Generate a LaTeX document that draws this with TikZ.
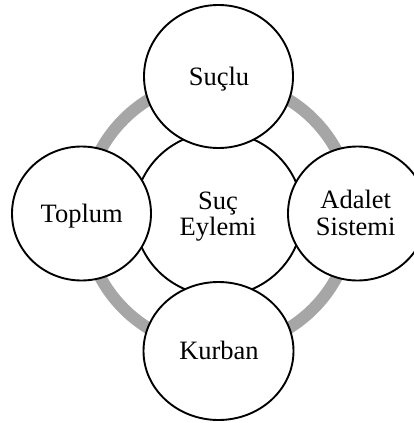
\documentclass[tikz,border=0pt]{standalone}
\usepackage{fontspec}
\setmainfont{Liberation Serif}
\usetikzlibrary{shapes.geometric}
\definecolor{ringgray}{HTML}{A6A6A6}
\begin{document}
\begin{tikzpicture}[x=1pt,y=-1pt,
  bubble/.style={draw=black, line width=1.9pt, fill=white, ellipse, inner sep=0pt},
  lbl/.style={anchor=base, inner sep=0pt, font=\fontsize{26.5}{27}\selectfont},
  ringstyle/.style={draw=ringgray, line width=12pt, circle, inner sep=0pt, minimum size=268pt}]
\useasboundingbox (0,0) rectangle (414,423);
\clip (0,0) rectangle (414,423);
\node[ringstyle] (ring) at (218.5,214) {};
\node[bubble, minimum width=168pt, minimum height=164pt] (center) at (218.5,214) {};
\node[bubble, minimum width=149pt, minimum height=143pt] (suclu) at (218.5,76.5) {};
\node[bubble, minimum width=150pt, minimum height=138pt] (kurban) at (218.5,351) {};
\node[bubble, minimum width=139pt, minimum height=134pt] (toplum) at (81.5,213.5) {};
\node[bubble, minimum width=139pt, minimum height=134pt] (adalet) at (357.5,213.5) {};
\node[lbl] (tsuclu) at (219,85) {Suçlu};
\node[lbl] (tkurban) at (219,359.5) {Kurban};
\node[lbl] (ttoplum) at (81.7,222.5) {Toplum};
\node[lbl] (tadalet1) at (355.7,208.3) {Adalet};
\node[lbl] (tadalet2) at (355.7,235) {Sistemi};
\node[lbl] (tsuc1) at (218,209) {Suç};
\node[lbl] (tsuc2) at (218,235) {Eylemi};
\end{tikzpicture}
\end{document}
